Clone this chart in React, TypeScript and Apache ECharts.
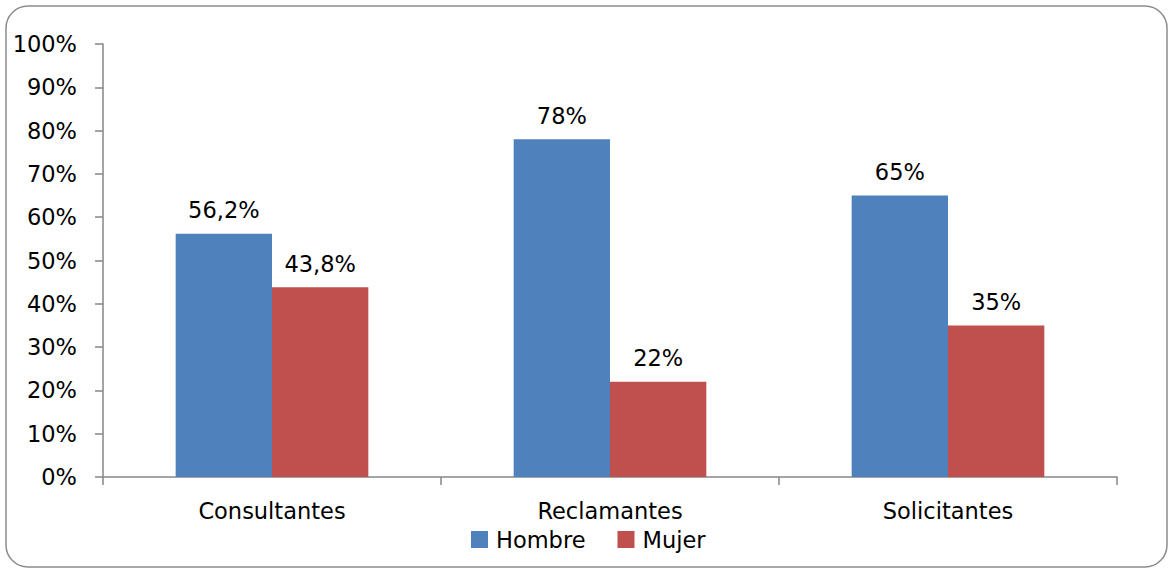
import React, { useEffect, useRef } from "react";
import * as echarts from "echarts";

const categories = ["Consultantes", "Reclamantes", "Solicitantes"];
const hombre = [56.2, 78, 65];
const mujer = [43.8, 22, 35];
const seriesNames = ["Hombre", "Mujer"];

const FONT = "DejaVu Sans";
const FS = 22.5;

export default function App() {
  const ref = useRef<HTMLDivElement>(null);
  useEffect(() => {
    const chart = echarts.init(ref.current!, null, { renderer: "svg" });
    const fmt = (p: any) => String(p.value).replace(".", ",") + "%";
    const labelStyle = {
      show: true,
      position: "top",
      distance: 12,
      fontFamily: FONT,
      fontSize: FS,
      color: "#000",
      formatter: fmt,
    };
    chart.setOption({
      animation: false,
      backgroundColor: "#ffffff",
      textStyle: { fontFamily: FONT },
      graphic: [
        {
          type: "rect",
          shape: { x: 6, y: 6, width: 1161, height: 561, r: 22 },
          style: { fill: "none", stroke: "#8c8c8c", lineWidth: 1.5 },
          silent: true,
        },
      ],
      grid: { left: 103, right: 51, top: 44, bottom: 93 },
      legend: {
        bottom: 14,
        left: 466,
        itemWidth: 17,
        itemHeight: 17,
        itemGap: 32,
        icon: "rect",
        textStyle: { fontFamily: FONT, fontSize: FS, color: "#000", padding: [0, 0, 0, 3] },
        data: seriesNames,
      },
      xAxis: {
        type: "category",
        data: categories,
        axisLine: { lineStyle: { color: "#868686", width: 1.5 } },
        axisTick: { show: true, length: 8, lineStyle: { color: "#868686", width: 1.5 } },
        axisLabel: { fontFamily: FONT, fontSize: FS, color: "#000", margin: 22 },
      },
      yAxis: {
        type: "value",
        min: 0,
        max: 100,
        interval: 10,
        splitLine: { show: false },
        axisLine: { show: true, lineStyle: { color: "#868686", width: 1.5 } },
        axisTick: { show: true, length: 8, lineStyle: { color: "#868686", width: 1.5 } },
        axisLabel: {
          fontFamily: FONT,
          fontSize: FS,
          color: "#000",
          margin: 26,
          formatter: (v: number) => v + "%",
        },
      },
      series: [
        {
          name: seriesNames[0],
          type: "bar",
          data: hombre,
          barGap: "0%",
          barCategoryGap: "43%",
          itemStyle: { color: "#4F81BD" },
          label: labelStyle,
        },
        {
          name: seriesNames[1],
          type: "bar",
          data: mujer,
          itemStyle: { color: "#C0504D" },
          label: labelStyle,
        },
      ],
    });
    return () => chart.dispose();
  }, []);
  return (
    <div
      ref={ref}
      style={{ position: "absolute", left: 0, top: 0, width: 1168, height: 570 }}
    />
  );
}
